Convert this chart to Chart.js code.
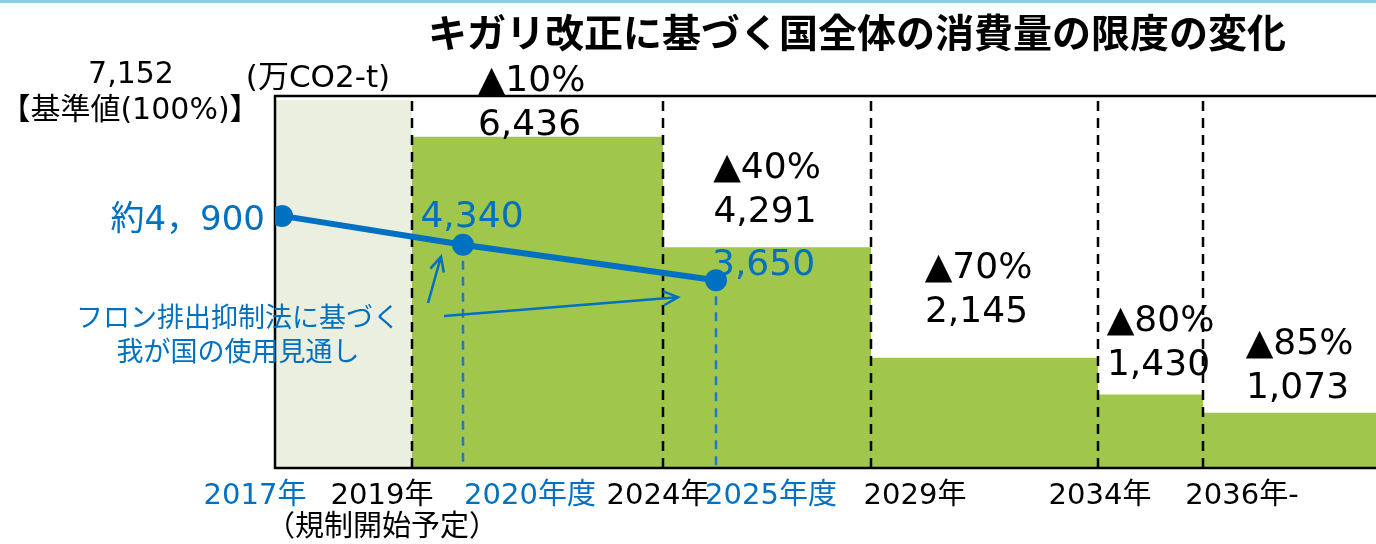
<!DOCTYPE html>
<html lang="ja">
<head>
<meta charset="utf-8">
<script src="https://cdn.jsdelivr.net/npm/chart.js@4.4.1/dist/chart.umd.min.js"></script>
<style>
  html, body { margin: 0; padding: 0; background: #fff; }
</style>
</head>
<body>
<canvas id="chart" width="1376" height="544"></canvas>
<script>
// timeline positions (axis units) of the step edges
const edgePos = [0, 1.37, 3.88, 5.96, 8.23, 9.28, 11.01];
const baseValue = 7152;
const limitValues = [6436, 4291, 2145, 1430, 1073];
const cutLabels = ["▲10%", "▲40%", "▲70%", "▲80%", "▲85%"];
const limitLabels = ["6,436", "4,291", "2,145", "1,430", "1,073"];

// フロン排出抑制法に基づく使用見通し
const usePos = [0.07, 1.88, 4.41];
const useValues = [4900, 4340, 3650];
const useLabels = ["約4，900", "4,340", "3,650"];

const tickPos = [-0.2, 1.07, 2.55, 3.83, 4.96, 6.4, 8.25, 9.67];
const tickLabels = ["2017年", ["2019年", "（規制開始予定）"], "2020年度", "2024年", "2025年度", "2029年", "2034年", "2036年-"];
const useYears = ["2017年", "2020年度", "2025年度"];

const BLUE = "#0070C0";
const GREEN = "#A0C64C";
const GRAY = "#EBEFDF";
const FONT = '"DejaVu Sans", "Noto Sans CJK JP", sans-serif';
const JP = '"Noto Sans CJK JP", sans-serif';

const stepData = limitValues.map((v, i) => ({ x: edgePos[i + 1], y: v }));
stepData.push({ x: edgePos[edgePos.length - 1], y: limitValues[limitValues.length - 1] });

const text = (ctx, s, x, y, font, color, align) => {
  ctx.font = font;
  ctx.fillStyle = color;
  ctx.textAlign = align || "center";
  ctx.textBaseline = "alphabetic";
  ctx.fillText(s, x, y);
};

const arrow = (ctx, x0, y0, x1, y1) => {
  const ang = Math.atan2(y1 - y0, x1 - x0);
  ctx.beginPath();
  ctx.moveTo(x0, y0);
  ctx.lineTo(x1, y1);
  ctx.moveTo(x1 - 16 * Math.cos(ang - 0.45), y1 - 16 * Math.sin(ang - 0.45));
  ctx.lineTo(x1, y1);
  ctx.lineTo(x1 - 16 * Math.cos(ang + 0.45), y1 - 16 * Math.sin(ang + 0.45));
  ctx.stroke();
};

const deco = {
  id: "deco",
  beforeDraw(chart) {
    const { ctx } = chart;
    ctx.save();
    ctx.fillStyle = "#8ED0E3";
    ctx.fillRect(0, 0, chart.width, 3);
    text(ctx, "キガリ改正に基づく国全体の消費量の限度の変化", 857, 47, "bold 39px " + JP, "#000");
    ctx.restore();
  },
  afterDatasetDraw(chart, args) {
    if (args.index !== 1) return;
    const { ctx, chartArea: a, scales: { x, y } } = chart;
    ctx.save();
    ctx.strokeStyle = "#000";
    ctx.lineWidth = 2.5;
    ctx.setLineDash([10, 7]);
    edgePos.slice(1, -1).forEach((p) => {
      const px = Math.round(x.getPixelForValue(p));
      ctx.beginPath();
      ctx.moveTo(px, a.top + 5);
      ctx.lineTo(px, a.bottom);
      ctx.stroke();
    });
    ctx.strokeStyle = "#1F78C8";
    ctx.lineWidth = 2.5;
    ctx.setLineDash([9, 7]);
    usePos.slice(1).forEach((p, i) => {
      const px = Math.round(x.getPixelForValue(p));
      ctx.beginPath();
      ctx.moveTo(px, y.getPixelForValue(useValues[i + 1]));
      ctx.lineTo(px, a.bottom);
      ctx.stroke();
    });
    ctx.setLineDash([]);
    ctx.strokeStyle = "#000";
    ctx.lineWidth = 2.5;
    ctx.beginPath();
    ctx.moveTo(a.right, a.top);
    ctx.lineTo(a.left, a.top);
    ctx.lineTo(a.left, a.bottom);
    ctx.lineTo(a.right, a.bottom);
    ctx.stroke();
    ctx.restore();
  },
  afterDatasetsDraw(chart) {
    const { ctx, scales: { x, y } } = chart;
    ctx.save();
    // base value labels
    const yb = y.getPixelForValue(baseValue);
    text(ctx, "7,152", 131, yb - 17, "30px " + FONT, "#000");
    text(ctx, "【基準値(100%)】", 130, yb + 19, "30px " + FONT, "#000");
    text(ctx, "(万CO2-t)", 318, yb - 13, "31px " + FONT, "#000");

    // limit labels
    const nudge = [[-8, 2], [-2, 25], [-8, 36], [8, 19], [8, 15]];
    limitValues.forEach((v, i) => {
      const xc = (x.getPixelForValue(edgePos[i + 1]) + x.getPixelForValue(edgePos[i + 2])) / 2 + nudge[i][0];
      const base = y.getPixelForValue(v) - nudge[i][1];
      text(ctx, limitLabels[i], xc, base, "36px " + FONT, "#000");
      text(ctx, cutLabels[i], xc + 2, base - 44, "36px " + FONT, "#000");
    });

    // use projection labels
    const pts = usePos.map((p, i) => ({ x: x.getPixelForValue(p), y: y.getPixelForValue(useValues[i]) }));
    text(ctx, useLabels[0], pts[0].x - 17, pts[0].y + 14, "34px " + FONT, BLUE, "right");
    text(ctx, useLabels[1], pts[1].x + 9, pts[1].y - 18, "36px " + FONT, BLUE);
    text(ctx, useLabels[2], pts[2].x - 4, pts[2].y - 5, "36px " + FONT, BLUE, "left");

    text(ctx, "フロン排出抑制法に基づく", 238, 327, "27px " + JP, BLUE);
    text(ctx, "我が国の使用見通し", 238, 361, "27px " + JP, BLUE);
    ctx.strokeStyle = BLUE;
    ctx.lineWidth = 2.5;
    arrow(ctx, 428, 303, pts[1].x - 22, pts[1].y + 12);
    arrow(ctx, 444, 316, pts[2].x - 38, pts[2].y + 17);
    ctx.restore();
  }
};

new Chart(document.getElementById("chart"), {
  type: "line",
  data: {
    datasets: [
      {
        label: "基準値",
        data: [{ x: edgePos[0], y: baseValue }, { x: edgePos[1], y: baseValue }],
        backgroundColor: GRAY,
        borderWidth: 0,
        pointRadius: 0,
        fill: "origin",
        order: 3
      },
      {
        label: "消費量の限度",
        data: stepData,
        stepped: "before",
        backgroundColor: GREEN,
        borderWidth: 0,
        pointRadius: 0,
        fill: "origin",
        order: 2
      },
      {
        label: "使用見通し",
        data: usePos.map((p, i) => ({ x: p, y: useValues[i] })),
        borderColor: BLUE,
        borderWidth: 6,
        pointRadius: 11,
        pointBackgroundColor: BLUE,
        pointBorderWidth: 0,
        fill: false,
        order: 1
      }
    ]
  },
  options: {
    responsive: false,
    animation: false,
    layout: { autoPadding: false, padding: { left: 275, right: 0, top: 96, bottom: 0 } },
    plugins: { legend: { display: false }, tooltip: { enabled: false }, title: { display: false } },
    scales: {
      x: {
        type: "linear",
        min: edgePos[0],
        max: edgePos[edgePos.length - 1],
        grid: { display: false, drawTicks: false },
        border: { display: false },
        afterBuildTicks: (scale) => {
          scale.ticks = tickPos.map((v) => ({ value: v }));
        },
        afterFit: (scale) => {
          scale.height = 76;
        },
        ticks: {
          autoSkip: false,
          maxRotation: 0,
          padding: 13,
          font: { family: FONT, size: 29, lineHeight: 1.1 },
          color: (c) => (useYears.includes(tickLabels[c.index]) ? BLUE : "#000"),
          callback: (v, i) => tickLabels[i]
        }
      },
      y: {
        display: false,
        min: 0,
        max: 7230
      }
    }
  },
  plugins: [deco]
});
</script>
</body>
</html>
